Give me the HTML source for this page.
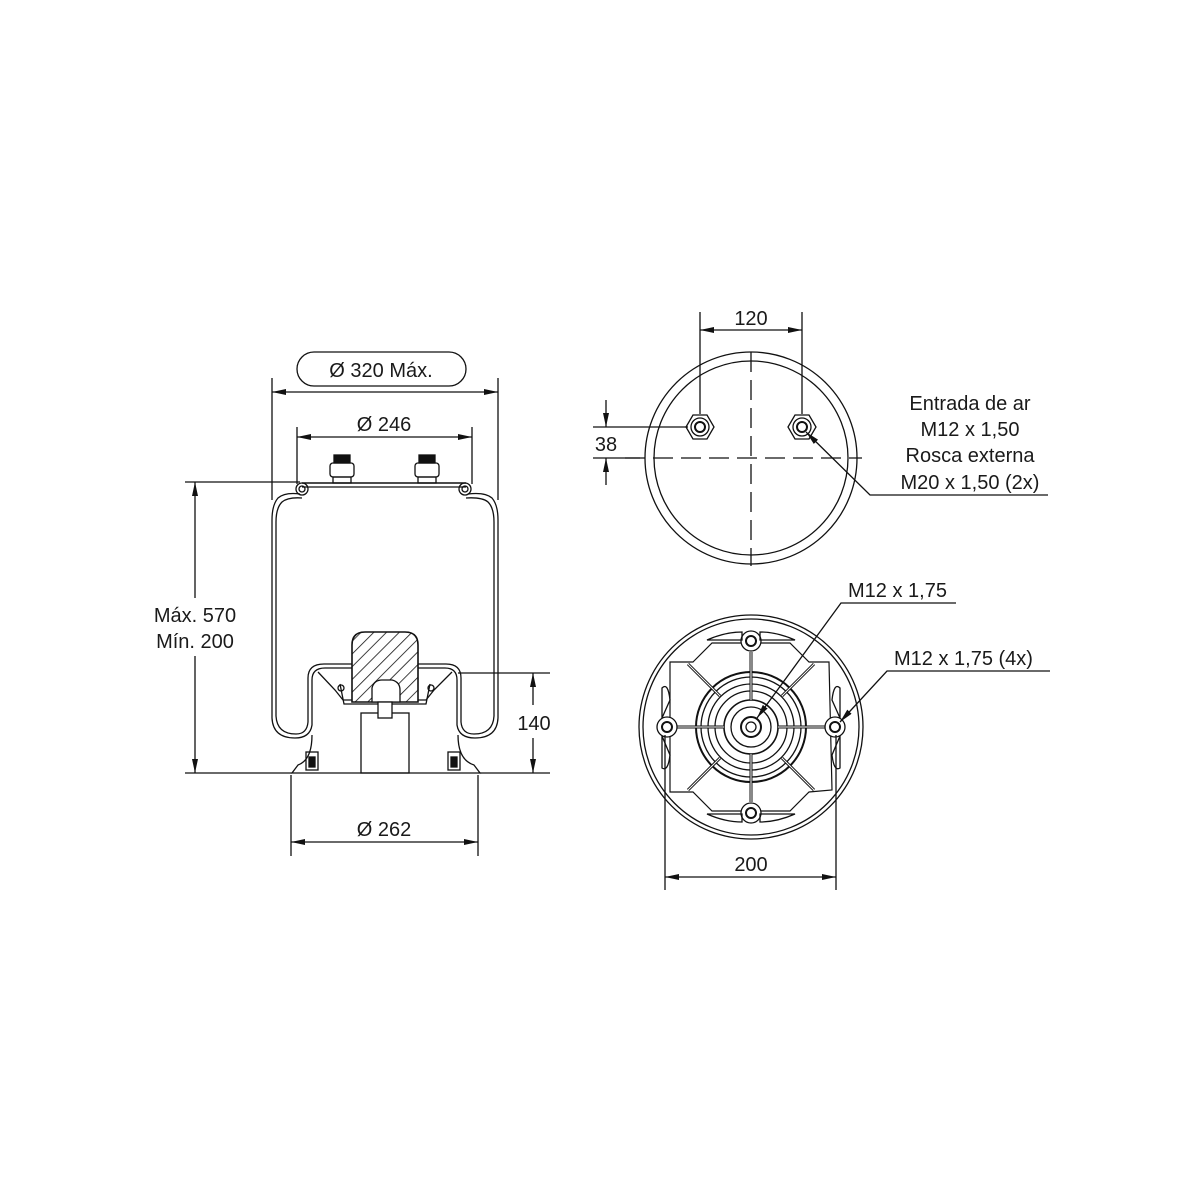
<!DOCTYPE html>
<html><head><meta charset="utf-8"><style>
html,body{margin:0;padding:0;background:#fff;}
svg{display:block;}
text{font-family:"Liberation Sans",sans-serif;fill:#1a1a1a;}
</style></head><body>
<svg width="1200" height="1200" viewBox="0 0 1200 1200" xmlns="http://www.w3.org/2000/svg">
<defs>
<marker id="a" viewBox="0 0 14 6" refX="14" refY="3" markerWidth="14" markerHeight="6" orient="auto-start-reverse" markerUnits="userSpaceOnUse"><path d="M0,0 L14,3 L0,6 z" fill="#111"/></marker>
<pattern id="h" width="9" height="9" patternUnits="userSpaceOnUse" patternTransform="rotate(45)"><rect width="9" height="9" fill="#fff"/><line x1="0" y1="0" x2="0" y2="9" stroke="#111" stroke-width="1.6"/></pattern>
</defs>
<g fill="none" stroke="#111" stroke-width="1.3">
<!-- LEFT VIEW dimensions -->
<rect x="297" y="352" width="169" height="34" rx="17"/>
<line x1="272" y1="378" x2="272" y2="500"/><line x1="498" y1="378" x2="498" y2="500"/>
<line x1="272" y1="392" x2="498" y2="392" marker-start="url(#a)" marker-end="url(#a)"/>
<line x1="297" y1="427" x2="297" y2="484"/><line x1="472" y1="427" x2="472" y2="484"/>
<line x1="297" y1="437" x2="472" y2="437" marker-start="url(#a)" marker-end="url(#a)"/>
<line x1="185" y1="482" x2="300" y2="482"/><line x1="185" y1="773" x2="292" y2="773"/>
<line x1="195" y1="482" x2="195" y2="598" marker-start="url(#a)"/>
<line x1="195" y1="656" x2="195" y2="773" marker-end="url(#a)"/>
<line x1="458" y1="673" x2="550" y2="673"/><line x1="480" y1="773" x2="550" y2="773"/>
<line x1="533" y1="673" x2="533" y2="705" marker-start="url(#a)"/>
<line x1="533" y1="738" x2="533" y2="773" marker-end="url(#a)"/>
<line x1="291" y1="775" x2="291" y2="856"/><line x1="478" y1="775" x2="478" y2="856"/>
<line x1="291" y1="842" x2="478" y2="842" marker-start="url(#a)" marker-end="url(#a)"/>
<!-- top plate -->
<path d="M302,483 L466,483" stroke-width="1.6"/><path d="M302,487 L466,487"/>
<circle cx="302" cy="489" r="6"/><circle cx="302" cy="489" r="3"/>
<circle cx="465" cy="489" r="6"/><circle cx="465" cy="489" r="3"/>
<!-- nuts -->
<rect x="334" y="455" width="16" height="8" fill="#111"/><rect x="330" y="463" width="24" height="14" rx="3"/><rect x="333" y="477" width="18" height="6"/>
<rect x="419" y="455" width="16" height="8" fill="#111"/><rect x="415" y="463" width="24" height="14" rx="3"/><rect x="418" y="477" width="18" height="6"/>
<!-- bellows -->
<path d="M300,494 Q285,492 278,498 Q272,505 272,520 L272,718 Q273,738 295,738 Q310,738 312,725 L312,680 Q312,668 325,668 L445,668 Q457,668 457,680 L457,725 Q459,738 475,738 Q497,738 498,718 L498,520 Q498,505 492,498 Q485,492 468,494"/>
<path d="M302,498 Q288,497 282,502 Q276,508 276,522 L276,716 Q277,734 296,734 Q307,734 308,722 L308,678 Q308,664 324,664 L446,664 Q461,664 461,678 L461,722 Q462,734 474,734 Q493,734 494,716 L494,522 Q494,508 488,502 Q482,497 466,498"/>
<!-- piston -->
<path d="M312,735 Q312,760 298,765 L292,773 L480,773 L474,765 Q458,760 458,735"/>
<rect x="361" y="713" width="48" height="60"/>
<path d="M318,672 L335,690 L343,700 L426,700 L434,690 L452,672"/>
<path d="M340,684 L344,704 L426,704 L430,684"/>
<circle cx="341" cy="688" r="3"/><circle cx="431" cy="688" r="3"/>
<path d="M352,702 L352,645 Q352,632 365,632 L405,632 Q418,632 418,645 L418,702 Z" fill="url(#h)" stroke-width="1.6"/>
<path d="M372,702 L372,688 Q374,680 382,680 L392,680 Q400,682 400,690 L400,702 Z" fill="#fff"/>
<rect x="378" y="702" width="14" height="16" fill="#fff"/>
<rect x="306" y="752" width="12" height="18"/><rect x="309" y="757" width="6" height="10" fill="#111"/>
<rect x="448" y="752" width="12" height="18"/><rect x="451" y="757" width="6" height="10" fill="#111"/>
<!-- TOP RIGHT -->
<circle cx="751" cy="458" r="106"/><circle cx="751" cy="458" r="97"/>
<line x1="751" y1="352" x2="751" y2="566" stroke-dasharray="20,8"/>
<line x1="625" y1="458" x2="862" y2="458" stroke-dasharray="20,8"/>
<line x1="700" y1="312" x2="700" y2="414"/><line x1="802" y1="312" x2="802" y2="414"/>
<line x1="700" y1="330" x2="802" y2="330" marker-start="url(#a)" marker-end="url(#a)"/>
<line x1="593" y1="427" x2="688" y2="427"/><line x1="593" y1="458" x2="640" y2="458"/>
<line x1="606" y1="400" x2="606" y2="427" marker-end="url(#a)"/>
<line x1="606" y1="485" x2="606" y2="458" marker-end="url(#a)"/>
<polygon points="686,427 693,415 707,415 714,427 707,439 693,439"/><circle cx="700" cy="427" r="9"/><circle cx="700" cy="427" r="5" stroke-width="2"/>
<polygon points="788,427 795,415 809,415 816,427 809,439 795,439"/><circle cx="802" cy="427" r="9"/><circle cx="802" cy="427" r="5" stroke-width="2"/>
<polyline points="1048,495 870,495 806,432" marker-end="url(#a)"/>
<!-- BOTTOM RIGHT -->
<circle cx="751" cy="727" r="112"/><circle cx="751" cy="727" r="108"/>
<path d="M693,662 L712,643 L790,643 L809,662 L829,662 L832,790 L809,792 L790,811 L712,811 L693,792 L670,792 L670,662 Z" stroke-width="1.2"/>
<circle cx="751" cy="727" r="55" stroke-width="2"/><circle cx="751" cy="727" r="50"/>
<circle cx="751" cy="727" r="43"/><circle cx="751" cy="727" r="36"/><circle cx="751" cy="727" r="27" stroke-width="1.6"/><circle cx="751" cy="727" r="20"/>
<circle cx="751" cy="727" r="10" stroke-width="2"/><circle cx="751" cy="727" r="5"/>
<g stroke-width="3"><line x1="688" y1="664" x2="720" y2="696"/><line x1="814" y1="664" x2="782" y2="696"/><line x1="688" y1="790" x2="720" y2="758"/><line x1="814" y1="790" x2="782" y2="758"/>
<line x1="751" y1="652" x2="751" y2="700"/><line x1="751" y1="754" x2="751" y2="802"/><line x1="677" y1="727" x2="724" y2="727"/><line x1="778" y1="727" x2="825" y2="727"/></g>
<g stroke="#fff" stroke-width="1"><line x1="688" y1="664" x2="720" y2="696"/><line x1="814" y1="664" x2="782" y2="696"/><line x1="688" y1="790" x2="720" y2="758"/><line x1="814" y1="790" x2="782" y2="758"/>
<line x1="751" y1="652" x2="751" y2="700"/><line x1="751" y1="754" x2="751" y2="802"/><line x1="677" y1="727" x2="724" y2="727"/><line x1="778" y1="727" x2="825" y2="727"/></g>
<g fill="#fff"><circle cx="751" cy="641" r="10"/><circle cx="751" cy="813" r="10"/><circle cx="667" cy="727" r="10"/><circle cx="835" cy="727" r="10"/></g>
<g stroke-width="2"><circle cx="751" cy="641" r="5"/><circle cx="751" cy="813" r="5"/><circle cx="667" cy="727" r="5"/><circle cx="835" cy="727" r="5"/></g>
<path d="M707,640 Q725,632 742,632 L742,640 Z M795,640 Q777,632 760,632 L760,640 Z M707,814 Q725,822 742,822 L742,814 Z M795,814 Q777,822 760,822 L760,814 Z"/>
<path d="M662,718 L662,688 Q668,682 670,700 Z M840,718 L840,688 Q834,682 832,700 Z M662,736 L662,768 Q668,772 670,755 Z M840,736 L840,768 Q834,772 832,755 Z"/>
<line x1="665" y1="735" x2="665" y2="890"/><line x1="836" y1="735" x2="836" y2="890"/>
<line x1="665" y1="877" x2="836" y2="877" marker-start="url(#a)" marker-end="url(#a)"/>
<polyline points="956,603 841,603 757,718" marker-end="url(#a)"/>
<polyline points="1050,671 887,671 840,722" marker-end="url(#a)"/>
</g>
<g font-size="20">
<text x="381" y="377" text-anchor="middle">Ø 320 Máx.</text>
<text x="384" y="431" text-anchor="middle">Ø 246</text>
<text x="195" y="622" text-anchor="middle">Máx. 570</text>
<text x="195" y="648" text-anchor="middle">Mín. 200</text>
<text x="534" y="730" text-anchor="middle">140</text>
<text x="384" y="836" text-anchor="middle">Ø 262</text>
<text x="751" y="325" text-anchor="middle">120</text>
<text x="606" y="451" text-anchor="middle">38</text>
<text x="970" y="410" text-anchor="middle">Entrada de ar</text>
<text x="970" y="436" text-anchor="middle">M12 x 1,50</text>
<text x="970" y="462" text-anchor="middle">Rosca externa</text>
<text x="970" y="489" text-anchor="middle">M20 x 1,50 (2x)</text>
<text x="848" y="597">M12 x 1,75</text>
<text x="894" y="665">M12 x 1,75 (4x)</text>
<text x="751" y="871" text-anchor="middle">200</text>
</g>
</svg>
</body></html>
